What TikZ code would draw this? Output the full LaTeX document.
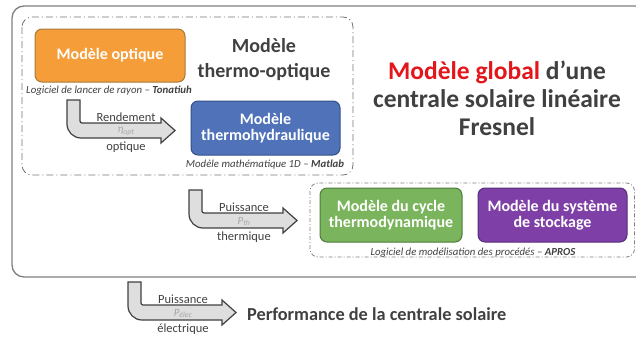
\documentclass[tikz,border=0pt]{standalone}
\usepackage{fontspec}
\setmainfont{Carlito}
\definecolor{txtgray}{HTML}{404040}
\definecolor{lgray}{HTML}{A6A6A6}
\definecolor{arrfill}{HTML}{DEDEDE}
\definecolor{orfill}{HTML}{F59D38}
\definecolor{ordraw}{HTML}{A87A3C}
\definecolor{blfill}{HTML}{4F72B8}
\definecolor{bldraw}{HTML}{34508A}
\definecolor{grfill}{HTML}{7AB45C}
\definecolor{grdraw}{HTML}{4F7A3C}
\definecolor{pufill}{HTML}{7E40A6}
\definecolor{pudraw}{HTML}{56307A}
\definecolor{redt}{HTML}{E3161C}
\definecolor{outgray}{HTML}{7F7F7F}
\newcommand{\fsz}[1]{\fontsize{#1}{\fpeval{#1*1.2}}\selectfont}
\tikzset{
  mbox/.style={draw, line width=1pt, rounded corners=7pt, text=white, font=\fsz{16}\bfseries, align=center, inner sep=0pt},
  smalllbl/.style={font=\fsz{10.8}\itshape, text=txtgray, inner sep=0pt},
  arrlbl/.style={font=\fsz{12.5}, text=txtgray, inner sep=0pt},
  symlbl/.style={font=\fsz{11}\itshape, text=lgray, inner sep=0pt},
  arrowshape/.style={draw=txtgray, fill=arrfill, line width=1.2pt, line join=miter},
  bentarr/.pic={
    \draw[arrowshape] (0,0) -- (13,0) -- (13,21) [rounded corners=2pt] -- (13,23) [sharp corners] -- (94,23) -- (94,18) -- (108,30.5) -- (94,43) -- (94,38) -- (14,38) arc (90:180:14) -- cycle;
  }
}
\begin{document}
\begin{tikzpicture}[x=1pt,y=-1pt]
\useasboundingbox (0,0) rectangle (636,340);
\begin{scope}
\clip (0,0) rectangle (636,340);
% outer frame
\draw[outgray, line width=1.3pt, rounded corners=12pt] (12,6) rectangle (680,277);
% dashed boxes
\draw[gray!90!black, line width=0.8pt, rounded corners=10pt, dash pattern=on 7pt off 3pt on 1pt off 3pt] (22,17) rectangle (353,175);
\draw[gray, line width=0.8pt, rounded corners=8pt, dash pattern=on 4pt off 2pt on 1pt off 2pt] (310,183) rectangle (634.5,257);
\end{scope}

% model boxes
\node[mbox, fill=orfill, draw=ordraw, minimum width=150pt, minimum height=53pt] (opt) at (110,55.5) {Modèle optique};
\node[smalllbl] (optlbl) at (109,91) {Logiciel de lancer de rayon – \textbf{Tonatiuh}};
\node[font=\fsz{20}\bfseries, text=txtgray, align=center, inner sep=0pt] (tomod) at (264,60) {Modèle\\[1pt]thermo-optique};
\node[mbox, fill=blfill, draw=bldraw, minimum width=149pt, minimum height=54pt, font=\fsz{16}\bfseries\linespread{0.85}\selectfont] (th) at (265.5,128) {Modèle\\thermohydraulique};
\node[smalllbl] (thlbl) at (265,165) {Modèle mathématique 1D – \textbf{Matlab}};

% title
\node[font=\fsz{25.5}\bfseries, text=txtgray, align=center, inner sep=0pt] (title) at (497,98) {\textcolor{redt}{Modèle global} d’une\\[-2pt]centrale solaire linéaire\\[-3pt]Fresnel};

% lower boxes
\node[mbox, fill=grfill, draw=grdraw, minimum width=142pt, minimum height=54pt, font=\fsz{16}\bfseries\linespread{0.85}\selectfont] (cyc) at (391,215) {Modèle du cycle\\thermodynamique};
\node[mbox, fill=pufill, draw=pudraw, minimum width=149pt, minimum height=54pt, font=\fsz{16}\bfseries\linespread{0.85}\selectfont] (sto) at (552.5,215) {Modèle du système\\de stockage};
\node[smalllbl] (aplbl) at (473,252.5) {Logiciel de modélisation des procédés – \textbf{APROS}};

% bent arrows
\pic (arrA) at (67,100) {bentarr};
\node[arrlbl] (a1t) at (126,117) {Rendement};
\node[symlbl] (a1s) at (126,131.5) {η\textsubscript{opt}};
\node[arrlbl] (a1b) at (126,147) {optique};

\pic (arrB) at (189,190) {bentarr};
\node[arrlbl] (a2t) at (244,207) {Puissance};
\node[symlbl] (a2s) at (244,221.5) {P\textsubscript{th}};
\node[arrlbl] (a2b) at (244,237) {thermique};

\pic (arrC) at (128,282) {bentarr};
\node[arrlbl] (a3t) at (183,299) {Puissance};
\node[symlbl] (a3s) at (183,313.5) {P\textsubscript{élec}};
\node[arrlbl] (a3b) at (183,329) {électrique};

\node[font=\fsz{18.3}\bfseries, text=txtgray, anchor=west, inner sep=0pt] (perf) at (247,314) {Performance de la centrale solaire};
\end{tikzpicture}
\end{document}
